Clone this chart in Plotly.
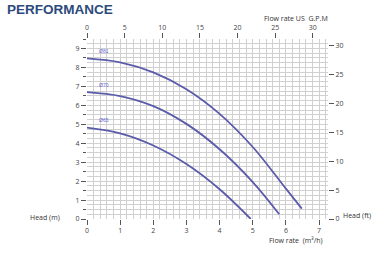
import plotly.graph_objects as go

# ---- data (flow m3/h, head m) ----
x81 = [0, 1, 2, 3, 4, 5, 6, 6.48]
y81 = [8.48, 8.27, 7.74, 6.85, 5.55, 3.8, 1.6, 0.55]
x70 = [0, 1, 2, 3, 4, 5, 5.8]
y70 = [6.7, 6.49, 5.96, 5.02, 3.68, 1.95, 0.25]
x65 = [0, 1, 2, 3, 4, 4.94]
y65 = [4.82, 4.52, 3.88, 2.9, 1.57, 0]
curve_names = ["Ø81", "Ø70", "Ø65"]
label_x = [0.3, 0.3, 0.3]
label_y = [8.85, 7.07, 5.25]

x_ticks = [0, 1, 2, 3, 4, 5, 6, 7]
y_ticks = [0, 1, 2, 3, 4, 5, 6, 7, 8, 9]
gpm_ticks = [0, 5, 10, 15, 20, 25, 30]
ft_ticks = [0, 5, 10, 15, 20, 25, 30]

M3H_TO_GPM = 4.403
M_TO_FT = 3.281
XMAX = 7.27
YMAX = 9.5

W, H = 380, 253
L, R, T, B = 87, 52, 39, 34
pw, ph = W - L - R, H - T - B

def px(xp):
    return (xp - L) / pw

def py(yp):
    return (H - B - yp) / ph

line_color = "#5b5bab"
grid_color = "#d0d0d0"
tick_font = dict(family="Open Sans, Liberation Sans, sans-serif", size=7, color="#444")

fig = go.Figure()
for xs, ys, nm in zip([x81, x70, x65], [y81, y70, y65], curve_names):
    fig.add_trace(go.Scatter(x=xs, y=ys, mode="lines", name=nm,
                             line=dict(color=line_color, width=1.8, shape="spline", smoothing=1.0),
                             hoverinfo="skip", showlegend=False))
# dummy traces to activate secondary axes
fig.add_trace(go.Scatter(x=[0], y=[0], xaxis="x2", yaxis="y2", mode="markers",
                         marker=dict(opacity=0), showlegend=False, hoverinfo="skip"))

for nm, lx, ly in zip(curve_names, label_x, label_y):
    fig.add_annotation(x=lx, y=ly, text=nm, showarrow=False, xanchor="left",
                       font=dict(family="Liberation Sans, sans-serif", size=5, color="#6a6ad0"))

fig.update_layout(
    width=W, height=H, margin=dict(l=L, r=R, t=T, b=B),
    paper_bgcolor="white", plot_bgcolor="white",
    xaxis=dict(range=[0, XMAX], tickvals=x_ticks, ticks="outside", ticklen=5, tickcolor="#555",
               tickwidth=1, showgrid=True, gridcolor=grid_color, gridwidth=0.6,
               minor=dict(dtick=0.2, showgrid=True, gridcolor=grid_color, gridwidth=0.6),
               showline=False, zeroline=False, tickfont=tick_font, fixedrange=True),
    yaxis=dict(range=[0, YMAX], tickvals=y_ticks, ticks="outside", ticklen=5, tickcolor="#555",
               tickwidth=1, showgrid=True, gridcolor=grid_color, gridwidth=0.6,
               minor=dict(dtick=0.25, showgrid=True, gridcolor=grid_color, gridwidth=0.6),
               showline=False, zeroline=False, tickfont=tick_font, fixedrange=True),
    xaxis2=dict(range=[0, XMAX * M3H_TO_GPM], overlaying="x", side="top", tickvals=gpm_ticks,
                ticks="outside", ticklen=5, tickcolor="#555", showgrid=False, zeroline=False,
                showline=False, tickfont=tick_font),
    yaxis2=dict(range=[0, YMAX * M_TO_FT], overlaying="y", side="right", tickvals=ft_ticks,
                ticks="outside", ticklen=5, tickcolor="#555", showgrid=False, zeroline=False,
                showline=False, tickfont=tick_font, anchor="x"),
    yaxis3=dict(range=[0, YMAX], overlaying="y", side="left",
                tickvals=[v + 0.5 for v in y_ticks], ticktext=["" for v in y_ticks],
                ticks="outside", ticklen=3, tickcolor="#555", showgrid=False, zeroline=False,
                showline=False, anchor="x"),
)
fig.add_trace(go.Scatter(x=[0], y=[0], yaxis="y3", mode="markers",
                         marker=dict(opacity=0), showlegend=False, hoverinfo="skip"))

text_font = dict(family="Open Sans, Liberation Sans, sans-serif", size=7, color="#333")
fig.add_annotation(xref="paper", yref="paper", x=px(5), y=py(10), text="<b>PERFORMANCE</b>",
                   showarrow=False, xanchor="left", yanchor="middle",
                   font=dict(family="Liberation Sans, sans-serif", size=13.5, color="#2c4a7c"))
fig.add_annotation(xref="paper", yref="paper", x=px(296), y=py(19), text="Flow rate US  G.P.M",
                   showarrow=False, xanchor="center", yanchor="middle", font=text_font)
fig.add_annotation(xref="paper", yref="paper", x=px(45), y=py(217), text="Head (m)",
                   showarrow=False, xanchor="center", yanchor="middle", font=text_font)
fig.add_annotation(xref="paper", yref="paper", x=px(357), y=py(215), text="Head (ft)",
                   showarrow=False, xanchor="center", yanchor="middle", font=text_font)
fig.add_annotation(xref="paper", yref="paper", x=px(296), y=py(240), text="Flow rate  (m³/h)",
                   showarrow=False, xanchor="center", yanchor="middle", font=text_font)

fig.write_html("out.html")
